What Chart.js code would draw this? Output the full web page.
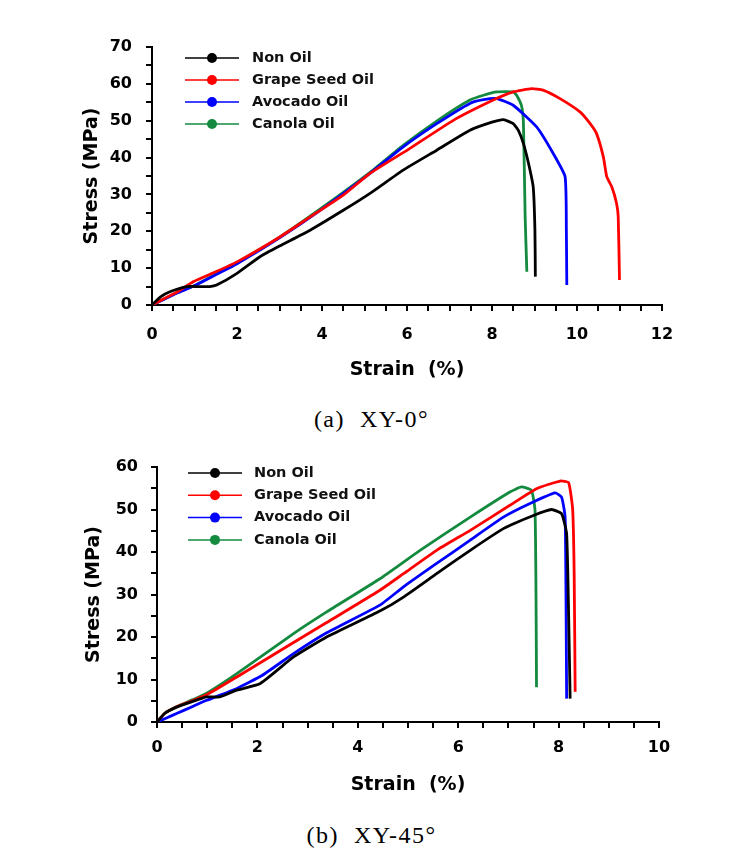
<!DOCTYPE html>
<html>
<head>
<meta charset="utf-8">
<script src="https://cdn.jsdelivr.net/npm/chart.js@4.4.1/dist/chart.umd.min.js"></script>
<style>
body { margin:0; background:#fff; width:751px; height:856px; position:relative; overflow:hidden; }
canvas { position:absolute; left:0; }
.cap { position:absolute; left:-4px; width:751px; text-align:center; font-family:"Liberation Serif", serif; font-size:24px; letter-spacing:1.5px; white-space:pre; color:#000; }
</style>
</head>
<body>
<canvas id="chartA" width="751" height="395" style="top:0px"></canvas>
<div class="cap" style="top:406px">(a)  XY-0°</div>
<canvas id="chartB" width="751" height="380" style="top:430px"></canvas>
<div class="cap" style="top:822px">(b)  XY-45°</div>
<script>
'use strict'

var seriesNames = ["Non Oil", "Grape Seed Oil", "Avocado Oil", "Canola Oil"];
var seriesColors = ["#000000", "#ff0000", "#0000ff", "#138a3e"];

// (a) XY-0
var nonOilStrainA = [0, 0.2, 0.42, 0.82, 1.1, 1.36, 1.52, 2.0, 2.54, 3.0, 3.72, 4.5, 5.13, 5.91, 6.7, 7.48, 8.0, 8.27, 8.5, 8.62, 8.74, 8.86, 8.97, 9.01, 9.02];
var nonOilStressA = [0, 2.2, 3.6, 5.0, 5.0, 5.0, 5.4, 8.6, 13.1, 16.0, 20.3, 25.7, 30.3, 36.6, 42.0, 47.4, 49.6, 50.3, 49.2, 47.4, 43.8, 38.4, 32.0, 20.3, 7.7];
var grapeStrainA = [0, 0.3, 0.6, 0.97, 1.5, 2.0, 3.0, 3.72, 4.5, 5.13, 6.07, 7.09, 8.03, 8.5, 8.93, 9.2, 9.6, 10.07, 10.31, 10.46, 10.62, 10.7, 10.82, 10.93, 10.97, 11.0];
var grapeStressA = [0, 1.8, 3.6, 6.3, 9.0, 11.7, 18.4, 23.9, 29.8, 35.7, 42.5, 50.1, 55.6, 57.8, 58.7, 58.3, 56.0, 52.4, 49.2, 46.5, 40.2, 34.8, 32.0, 27.6, 23.9, 6.8];
var avocadoStrainA = [0, 0.3, 0.6, 1.0, 1.5, 2.0, 3.0, 4.0, 5.13, 5.91, 6.7, 7.48, 7.8, 8.11, 8.5, 9.05, 9.44, 9.72, 9.75, 9.76];
var avocadoStressA = [0, 1.6, 3.3, 5.2, 8.2, 11.2, 18.2, 26.0, 35.7, 42.9, 49.2, 54.7, 55.7, 56.0, 54.2, 48.3, 41.1, 34.8, 20.0, 5.4];
var canolaStrainA = [0, 0.3, 0.6, 1.0, 1.5, 2.0, 3.0, 4.0, 5.13, 5.91, 6.7, 7.48, 7.8, 8.11, 8.5, 8.58, 8.7, 8.74, 8.78, 8.82];
var canolaStressA = [0, 1.7, 3.4, 5.3, 8.4, 11.4, 18.4, 26.4, 36.0, 43.3, 49.9, 55.6, 56.9, 57.8, 57.8, 56.9, 53.8, 49.2, 23.9, 9.0];

// (b) XY-45
var nonOilStrainB = [0, 0.15, 0.39, 0.7, 0.99, 1.25, 1.59, 2.05, 2.72, 3.38, 4.44, 4.91, 5.57, 6.24, 6.9, 7.5, 7.86, 8.06, 8.16, 8.2, 8.23];
var nonOilStressB = [0, 2.0, 3.5, 4.8, 5.9, 5.9, 7.5, 9.0, 15.3, 20.0, 26.1, 29.4, 34.9, 40.4, 45.5, 48.6, 50.0, 49.0, 44.3, 25.0, 5.5];
var grapeStrainB = [0, 0.15, 0.39, 0.7, 0.99, 1.59, 2.72, 3.38, 4.44, 4.91, 5.57, 6.24, 7.03, 7.56, 8.03, 8.2, 8.28, 8.31, 8.33];
var grapeStressB = [0, 2.0, 3.6, 5.0, 6.4, 10.6, 18.7, 23.4, 31.0, 34.9, 40.4, 45.1, 51.0, 54.9, 56.7, 56.3, 50.0, 35.0, 7.1];
var avocadoStrainB = [0, 0.2, 0.39, 0.7, 0.99, 1.59, 2.1, 2.72, 3.38, 4.44, 4.91, 5.57, 6.24, 6.9, 7.43, 7.93, 8.06, 8.13, 8.15, 8.16];
var avocadoStressB = [0, 1.0, 2.0, 3.6, 5.1, 7.9, 11.0, 16.1, 21.0, 27.5, 31.8, 37.3, 42.8, 48.2, 51.4, 53.9, 52.9, 48.2, 25.0, 5.5];
var canolaStrainB = [0, 0.15, 0.39, 0.7, 0.99, 1.59, 2.72, 3.38, 4.44, 5.24, 6.24, 7.03, 7.26, 7.46, 7.53, 7.55, 7.56];
var canolaStressB = [0, 2.0, 3.6, 5.2, 6.8, 11.4, 20.8, 25.9, 33.7, 40.4, 48.2, 54.1, 55.3, 54.5, 49.8, 30.0, 8.2];

function makeDatasets(strains, stresses) {
  return strains.map(function(xs, i) {
    return {
      label: seriesNames[i],
      data: xs.map(function(x, j) { return {x: x, y: stresses[i][j]}; }),
      borderColor: seriesColors[i],
      backgroundColor: seriesColors[i],
      borderWidth: 2.8,
      showLine: true,
      pointRadius: 0,
      tension: 0.15,
      borderJoinStyle: 'round'
    };
  });
}

// legend drawn inside the plot, line + dot like the original
var insideLegend = {
  id: 'insideLegend',
  afterDraw: function(chart, args, opts) {
    var ctx = chart.ctx;
    ctx.save();
    chart.data.datasets.forEach(function(ds, i) {
      var y = opts.top + i * opts.gap;
      ctx.strokeStyle = ds.borderColor;
      ctx.lineWidth = 1.5;
      ctx.beginPath();
      ctx.moveTo(opts.x0, y);
      ctx.lineTo(opts.x1, y);
      ctx.stroke();
      ctx.fillStyle = ds.borderColor;
      ctx.beginPath();
      ctx.arc((opts.x0 + opts.x1) / 2, y, 5, 0, Math.PI * 2);
      ctx.fill();
      ctx.fillStyle = '#111';
      ctx.font = 'bold 14.5px "DejaVu Sans"';
      ctx.textAlign = 'left';
      ctx.textBaseline = 'middle';
      ctx.fillText(ds.label, opts.textX, y);
    });
    ctx.restore();
  }
};

var tickFont = {family: 'DejaVu Sans', size: 16, weight: 'bold'};
var titleFont = {family: 'DejaVu Sans', size: 19, weight: 'bold'};

function makeScales(xMax, yMax, p) {
  return {
    x: {
      type: 'linear', min: 0, max: xMax,
      border: {display: true, color: '#000', width: 2},
      grid: {drawOnChartArea: false, drawTicks: true, tickLength: 6, color: '#000', lineWidth: 2},
      ticks: {
        stepSize: 0.5, autoSkip: false, maxRotation: 0, padding: p.xTickPad, color: '#000', font: tickFont,
        callback: function(v) { return v % 2 === 0 ? String(v) : ''; }
      },
      title: {display: true, text: 'Strain  (%)', color: '#000', font: titleFont, padding: {top: 0, bottom: p.xTitlePad}},
      afterFit: function(s) { s.height = 80; }
    },
    y: {
      type: 'linear', min: 0, max: yMax,
      border: {display: true, color: '#000', width: 2},
      grid: {drawOnChartArea: false, drawTicks: true, tickLength: 6, color: '#000', lineWidth: 2},
      ticks: {
        stepSize: 5, autoSkip: false, padding: p.yTickPad, color: '#000', font: tickFont,
        callback: function(v) { return v % 10 === 0 ? String(v) : ''; }
      },
      title: {display: true, text: 'Stress (MPa)', color: '#000', font: titleFont, padding: {top: p.yTitlePad, bottom: 0}},
      afterFit: function(s) { s.width = p.yWidth; }
    }
  };
}

new Chart(document.getElementById('chartA'), {
  type: 'scatter',
  data: {
    datasets: makeDatasets(
      [nonOilStrainA, grapeStrainA, avocadoStrainA, canolaStrainA],
      [nonOilStressA, grapeStressA, avocadoStressA, canolaStressA])
  },
  options: {
    responsive: false,
    animation: false,
    layout: {padding: {top: 47, right: 89, bottom: 10, left: 0}},
    scales: makeScales(12, 70, {xTickPad: 14, yTickPad: 14, xTitlePad: 3.6, yTitlePad: 80.6, yWidth: 152}),
    plugins: {
      legend: {display: false},
      tooltip: {enabled: false},
      insideLegend: {top: 58, gap: 22, x0: 185, x1: 239, textX: 252}
    }
  },
  plugins: [insideLegend]
});

new Chart(document.getElementById('chartB'), {
  type: 'scatter',
  data: {
    datasets: makeDatasets(
      [nonOilStrainB, grapeStrainB, avocadoStrainB, canolaStrainB],
      [nonOilStressB, grapeStressB, avocadoStressB, canolaStressB])
  },
  options: {
    responsive: false,
    animation: false,
    layout: {padding: {top: 37, right: 92, bottom: 8, left: 0}},
    scales: makeScales(10, 60, {xTickPad: 10, yTickPad: 13, xTitlePad: 5.6, yTitlePad: 82.6, yWidth: 157}),
    plugins: {
      legend: {display: false},
      tooltip: {enabled: false},
      insideLegend: {top: 43, gap: 22.3, x0: 188, x1: 242, textX: 254}
    }
  },
  plugins: [insideLegend]
});
</script>
</body>
</html>
